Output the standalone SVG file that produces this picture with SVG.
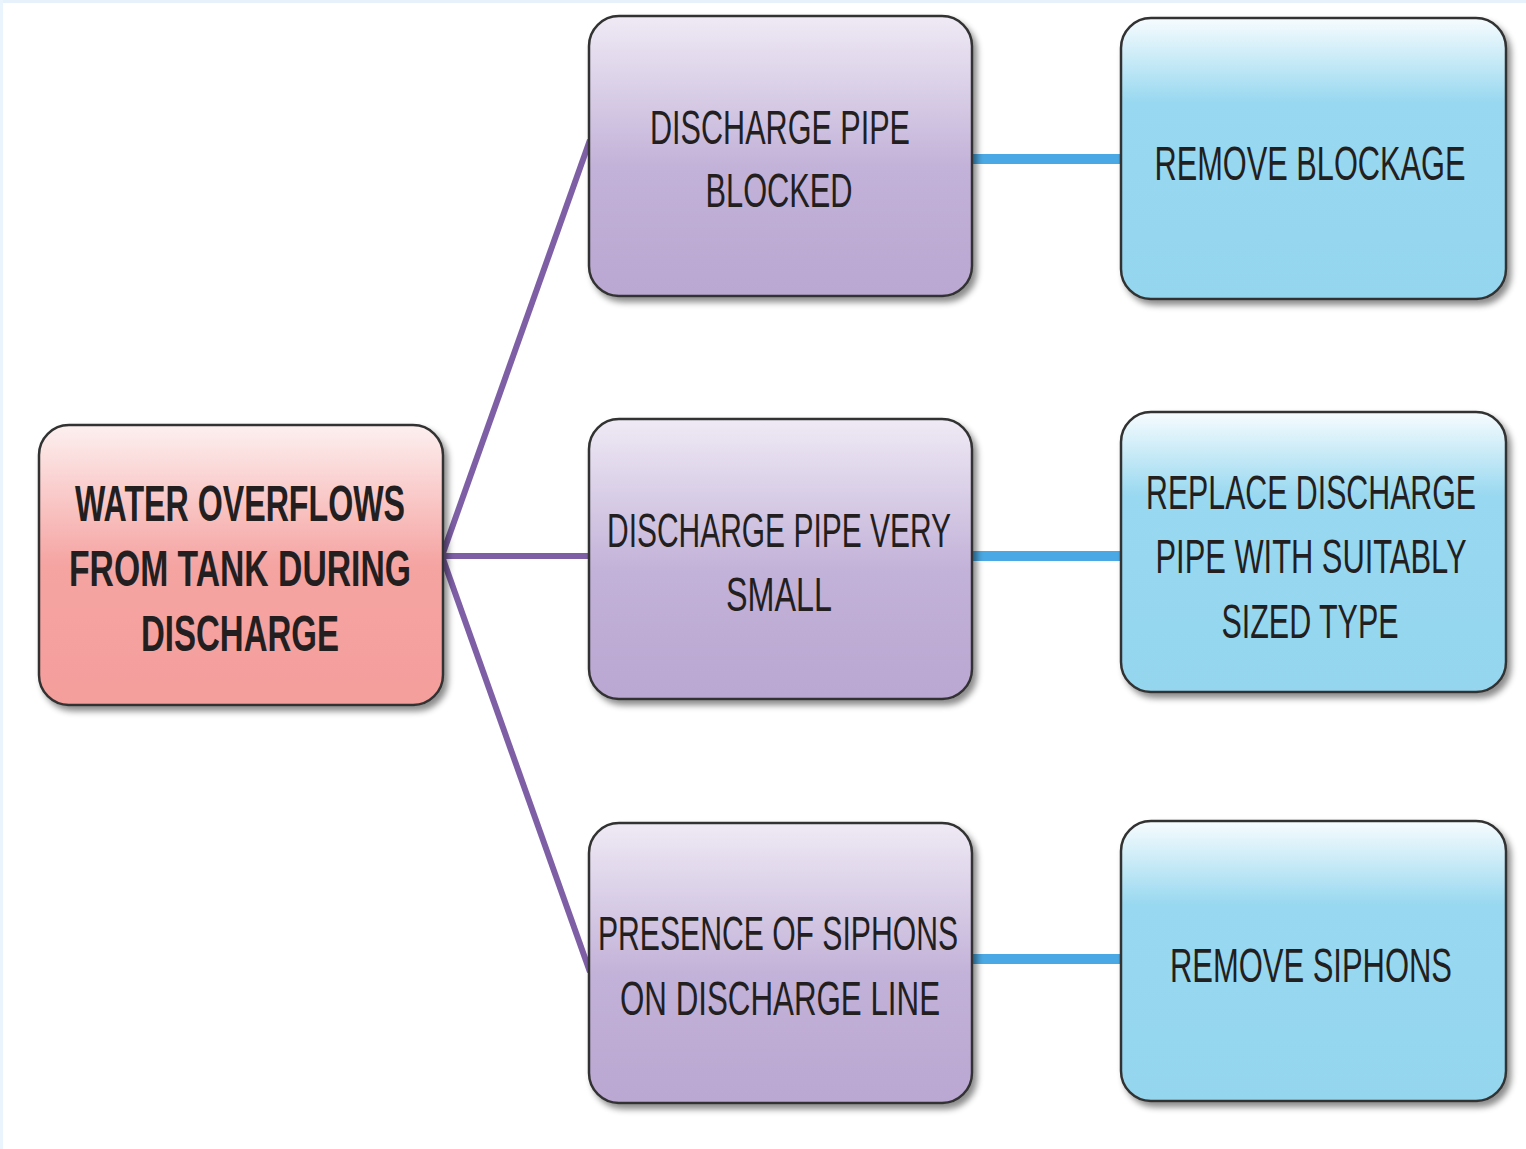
<svg xmlns="http://www.w3.org/2000/svg" width="1526" height="1149" viewBox="0 0 1526 1149">
<style>
.t{font-family:"Liberation Sans",Arial,sans-serif;font-size:48px;fill:#231f20;text-anchor:middle}
.b{font-weight:bold;font-size:50px}
.box{stroke:#333;stroke-width:2.5}
</style>
<defs>
<linearGradient id="gRed" x1="0" y1="0" x2="0" y2="1">
<stop offset="0" stop-color="#fdf0f0"/><stop offset="0.5" stop-color="#f5a4a2"/><stop offset="1" stop-color="#f59e9c"/>
</linearGradient>
<linearGradient id="gPur" x1="0" y1="0" x2="0" y2="1">
<stop offset="0" stop-color="#efeaf5"/><stop offset="0.55" stop-color="#c2b1d8"/><stop offset="1" stop-color="#baa7d2"/>
</linearGradient>
<linearGradient id="gBlu" x1="0" y1="0" x2="0" y2="1">
<stop offset="0" stop-color="#f7fcfe"/><stop offset="0.3" stop-color="#98d8f0"/><stop offset="1" stop-color="#95d6ef"/>
</linearGradient>
<filter id="sh" x="-10%" y="-10%" width="125%" height="125%">
<feDropShadow dx="4" dy="5" stdDeviation="3" flood-color="#000" flood-opacity="0.45"/>
</filter>
</defs>
<rect width="1526" height="1149" fill="#fff"/>
<rect width="1526" height="3" fill="#e6f1fb"/>
<rect width="3" height="1149" fill="#eaf4fd"/>
<g id="connectors">
<g stroke="#7e5fa6" stroke-width="6" fill="none">
<line x1="443" y1="553" x2="590" y2="140"/>
<line x1="443" y1="556" x2="590" y2="556"/>
<line x1="443" y1="559" x2="590" y2="972"/>
</g>
<g stroke="#4aa9e4" stroke-width="10" fill="none">
<line x1="972" y1="159" x2="1121" y2="159"/>
<line x1="972" y1="556" x2="1121" y2="556"/>
<line x1="972" y1="959" x2="1121" y2="959"/>
</g>
</g>
<g id="n0">
<rect class="box" x="39" y="425" width="404" height="280" rx="30" fill="url(#gRed)" filter="url(#sh)"/>
<text class="t b" transform="translate(240,521) scale(0.64,1)" textLength="515.6" lengthAdjust="spacingAndGlyphs">WATER OVERFLOWS</text>
<text class="t b" transform="translate(240,586) scale(0.64,1)" textLength="534.4" lengthAdjust="spacingAndGlyphs">FROM TANK DURING</text>
<text class="t b" transform="translate(240,651) scale(0.64,1)" textLength="309.4" lengthAdjust="spacingAndGlyphs">DISCHARGE</text>
</g>
<g id="n1">
<rect class="box" x="589" y="16" width="383" height="280" rx="30" fill="url(#gPur)" filter="url(#sh)"/>
<text class="t" transform="translate(780,144) scale(0.64,1)" textLength="406.3" lengthAdjust="spacingAndGlyphs">DISCHARGE PIPE</text>
<text class="t" transform="translate(779,207) scale(0.64,1)" textLength="229.7" lengthAdjust="spacingAndGlyphs">BLOCKED</text>
</g>
<g id="n2">
<rect class="box" x="589" y="419" width="383" height="280" rx="30" fill="url(#gPur)" filter="url(#sh)"/>
<text class="t" transform="translate(779,547) scale(0.64,1)" textLength="537.5" lengthAdjust="spacingAndGlyphs">DISCHARGE PIPE VERY</text>
<text class="t" transform="translate(779,611) scale(0.64,1)" textLength="165.6" lengthAdjust="spacingAndGlyphs">SMALL</text>
</g>
<g id="n3">
<rect class="box" x="589" y="823" width="383" height="280" rx="30" fill="url(#gPur)" filter="url(#sh)"/>
<text class="t" transform="translate(778,950) scale(0.64,1)" textLength="562.5" lengthAdjust="spacingAndGlyphs">PRESENCE OF SIPHONS</text>
<text class="t" transform="translate(780,1015) scale(0.64,1)" textLength="500" lengthAdjust="spacingAndGlyphs">ON DISCHARGE LINE</text>
</g>
<g id="n4">
<rect class="box" x="1121" y="18" width="385" height="281" rx="30" fill="url(#gBlu)" filter="url(#sh)"/>
<text class="t" transform="translate(1310,180) scale(0.64,1)" textLength="485.9" lengthAdjust="spacingAndGlyphs">REMOVE BLOCKAGE</text>
</g>
<g id="n5">
<rect class="box" x="1121" y="412" width="385" height="280" rx="30" fill="url(#gBlu)" filter="url(#sh)"/>
<text class="t" transform="translate(1311,509) scale(0.64,1)" textLength="515.6" lengthAdjust="spacingAndGlyphs">REPLACE DISCHARGE</text>
<text class="t" transform="translate(1311,573) scale(0.64,1)" textLength="485.9" lengthAdjust="spacingAndGlyphs">PIPE WITH SUITABLY</text>
<text class="t" transform="translate(1310,638) scale(0.64,1)" textLength="276.6" lengthAdjust="spacingAndGlyphs">SIZED TYPE</text>
</g>
<g id="n6">
<rect class="box" x="1121" y="821" width="385" height="280" rx="30" fill="url(#gBlu)" filter="url(#sh)"/>
<text class="t" transform="translate(1311,982) scale(0.64,1)" textLength="440.6" lengthAdjust="spacingAndGlyphs">REMOVE SIPHONS</text>
</g>
</svg>
